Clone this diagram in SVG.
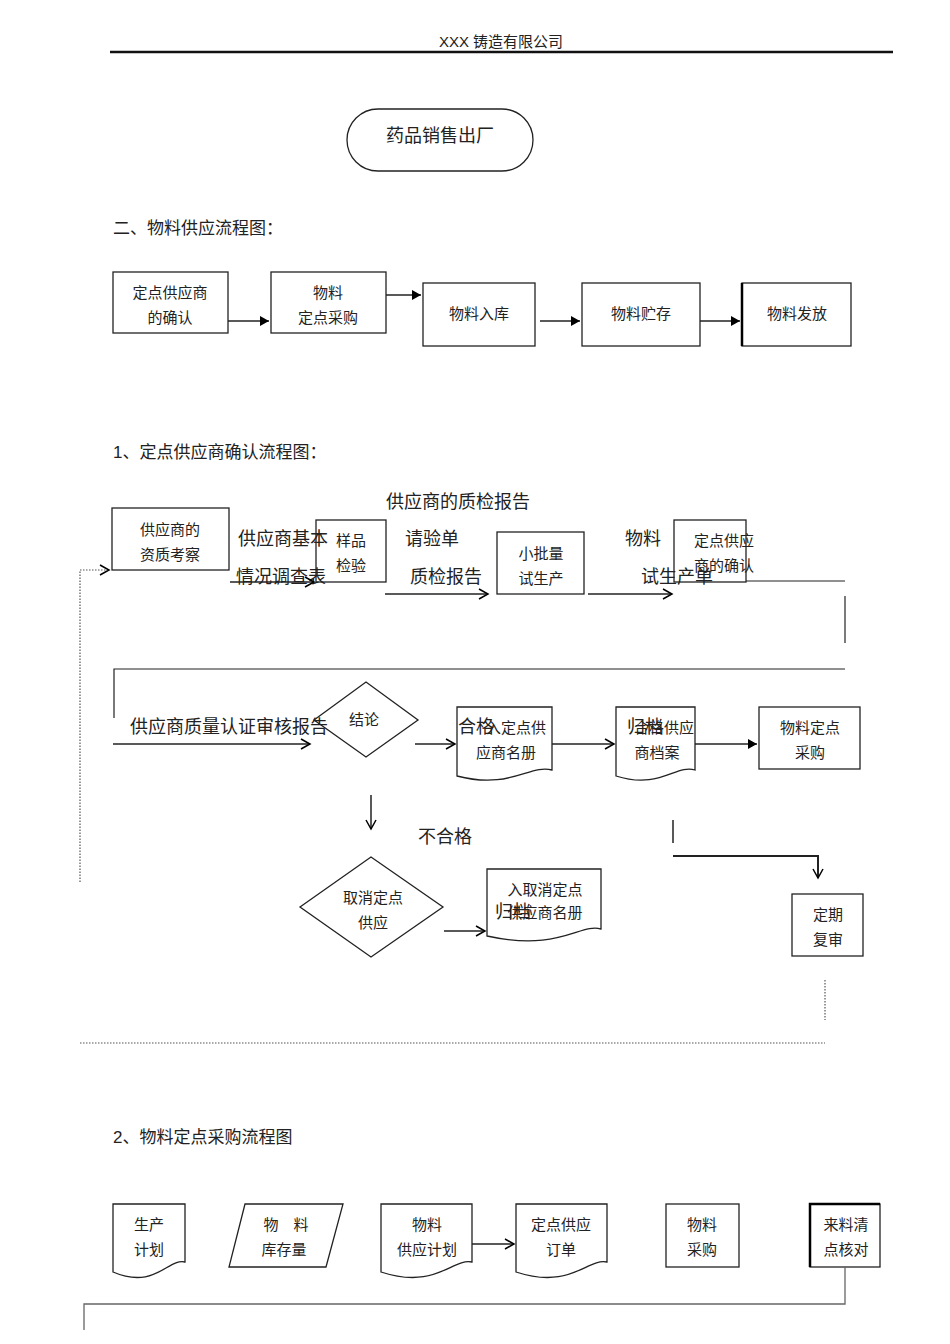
<svg xmlns="http://www.w3.org/2000/svg" width="950" height="1344" viewBox="0 0 950 1344">
<defs>
<marker id="ah" markerWidth="12" markerHeight="12" refX="10" refY="6" orient="auto" markerUnits="userSpaceOnUse"><path d="M1,1 L10,6 L1,11" fill="none" stroke="#000" stroke-width="1.5"/></marker>
<marker id="af" markerWidth="12" markerHeight="12" refX="10" refY="6" orient="auto" markerUnits="userSpaceOnUse"><path d="M1,1 L10,6 L1,11 Z" fill="#000"/></marker>
</defs>
<style>
text{font-family:"Liberation Sans","Noto Sans CJK SC",sans-serif;fill:#222}
.n{font-size:15px;text-anchor:middle}
.l{font-size:18px}
.s{fill:#fff;stroke:#222;stroke-width:1.3}
.c{fill:none;stroke:#222;stroke-width:1.5}
.d{fill:none;stroke:#555;stroke-width:1.2;stroke-dasharray:1.5,1.5}
</style>
<rect width="950" height="1344" fill="#fff"/>
<text x="501" y="47" class="n">XXX 铸造有限公司</text>
<line x1="110" y1="52" x2="893" y2="52" stroke="#111" stroke-width="2.5"/>
<g id="start"><rect class="s" x="347" y="109" width="186" height="62" rx="31"/><text x="440" y="142" class="n" style="font-size:18px">药品销售出厂</text></g>
<text x="113" y="234" class="l" style="font-size:17px">二、物料供应流程图：</text>
<g id="a1"><rect class="s" x="113" y="272" width="115" height="61"/><text class="n" x="170" y="298">定点供应商</text><text class="n" x="170" y="323">的确认</text></g>
<g id="a2"><rect class="s" x="271" y="272" width="115" height="61"/><text class="n" x="328" y="298">物料</text><text class="n" x="328" y="323">定点采购</text></g>
<g id="a3"><rect class="s" x="423" y="283" width="112" height="63"/><text class="n" x="479" y="319">物料入库</text></g>
<g id="a4"><rect class="s" x="582" y="283" width="118" height="63"/><text class="n" x="641" y="319">物料贮存</text></g>
<g id="a5"><rect class="s" x="742" y="283" width="109" height="63"/><line x1="742" y1="283" x2="742" y2="346" stroke="#000" stroke-width="2.5"/><text class="n" x="797" y="319">物料发放</text></g>
<text x="113" y="458" class="l" style="font-size:17px">1、定点供应商确认流程图：</text>
<text x="458" y="508" class="l" text-anchor="middle">供应商的质检报告</text>
<g id="b1"><rect class="s" x="112" y="508" width="117" height="62"/><text class="n" x="170" y="535">供应商的</text><text class="n" x="170" y="560">资质考察</text></g>
<g id="b2"><rect class="s" x="316" y="520" width="70" height="62"/><text class="n" x="351" y="546">样品</text><text class="n" x="351" y="571">检验</text></g>
<g id="b3"><rect class="s" x="497" y="532" width="87" height="62"/><text class="n" x="541" y="559">小批量</text><text class="n" x="541" y="584">试生产</text></g>
<g id="b4"><rect class="s" x="674" y="520" width="72" height="62"/><text class="n" x="724" y="546">定点供应</text><text class="n" x="724" y="571">商的确认</text></g>
<g id="b5"><path class="s" d="M314,720 L366,682 L418,720 L366,757 Z"/><text class="n" x="364" y="725">结论</text></g>
<g id="b6"><path class="s" d="M457,707 H552 V770 C530,764 510,790 457,776 Z"/><text class="n" x="516" y="733">入定点供</text><text class="n" x="506" y="758">应商名册</text></g>
<g id="b7"><path class="s" d="M616,707 H695 V770 C676,764 660,790 616,776 Z"/><text class="n" x="664" y="733">合格供应</text><text class="n" x="657" y="758">商档案</text></g>
<g id="b8"><rect class="s" x="759" y="707" width="101" height="62"/><text class="n" x="810" y="733">物料定点</text><text class="n" x="810" y="758">采购</text></g>
<g id="b9"><path class="s" d="M300,907 L371,857 L443,907 L371,957 Z"/><text class="n" x="373" y="903">取消定点</text><text class="n" x="373" y="928">供应</text></g>
<g id="b10"><path class="s" d="M487,869 H601 V929 C580,923 560,952 487,936 Z"/><text class="n" x="545" y="895">入取消定点</text><text class="n" x="545" y="918">供应商名册</text></g>
<g id="b11"><rect class="s" x="792" y="894" width="71" height="62"/><text class="n" x="828" y="920">定期</text><text class="n" x="828" y="945">复审</text></g>
<g id="lbl1" class="l">
<text x="238" y="545" class="l">供应商基本</text><text x="236" y="583" class="l">情况调查表</text>
<text x="405" y="545" class="l">请验单</text><text x="410" y="583" class="l">质检报告</text>
<text x="625" y="545" class="l">物料</text><text x="641" y="583" class="l">试生产单</text>
<text x="130" y="733" class="l">供应商质量认证审核报告</text>
<text x="458" y="733" class="l">合格</text><text x="627" y="733" class="l">归档</text>
<text x="418" y="843" class="l">不合格</text><text x="495" y="918" class="l">归档</text>
</g>
<text x="113" y="1143" class="l" style="font-size:17px">2、物料定点采购流程图</text>
<g id="c1"><path class="s" d="M113,1204 H185 V1262 C168,1258 155,1290 113,1272 Z"/><text class="n" x="149" y="1230">生产</text><text class="n" x="149" y="1255">计划</text></g>
<g id="c2"><path class="s" d="M245,1204 H343 L326,1267 H229 Z"/><text class="n" x="286" y="1230">物　料</text><text class="n" x="284" y="1255">库存量</text></g>
<g id="c3"><path class="s" d="M381,1204 H472 V1262 C452,1258 436,1290 381,1272 Z"/><text class="n" x="427" y="1230">物料</text><text class="n" x="427" y="1255">供应计划</text></g>
<g id="c4"><path class="s" d="M516,1204 H607 V1262 C587,1258 571,1290 516,1272 Z"/><text class="n" x="561" y="1230">定点供应</text><text class="n" x="561" y="1255">订单</text></g>
<g id="c5"><rect class="s" x="666" y="1204" width="73" height="63"/><text class="n" x="702" y="1230">物料</text><text class="n" x="702" y="1255">采购</text></g>
<g id="c6"><rect class="s" x="810" y="1204" width="70" height="63"/><path d="M810,1267 V1204 H880" fill="none" stroke="#000" stroke-width="2.5"/><text class="n" x="846" y="1230">来料清</text><text class="n" x="846" y="1255">点核对</text></g>
<g id="connectors">
<line class="c" x1="228" y1="321" x2="269" y2="321" marker-end="url(#af)"/>
<line class="c" x1="386" y1="295" x2="421" y2="295" marker-end="url(#af)"/>
<line class="c" x1="540" y1="321" x2="580" y2="321" marker-end="url(#af)"/>
<line class="c" x1="700" y1="321" x2="740" y2="321" marker-end="url(#af)"/>
<line class="c" x1="230" y1="582" x2="314" y2="582" marker-end="url(#ah)"/>
<line class="c" x1="385" y1="594" x2="488" y2="594" marker-end="url(#ah)"/>
<line class="c" x1="588" y1="594" x2="672" y2="594" marker-end="url(#ah)"/>
<path class="c" style="stroke-width:1.2" d="M746,581 H845"/>
<path class="c" style="stroke-width:1.2" d="M845,596 V643"/>
<path class="c" style="stroke-width:1.2" d="M845,669 H114 V718"/>
<line class="c" x1="113" y1="744" x2="310" y2="744" marker-end="url(#ah)"/>
<line class="c" x1="415" y1="744" x2="455" y2="744" marker-end="url(#ah)"/>
<line class="c" x1="552" y1="744" x2="614" y2="744" marker-end="url(#ah)"/>
<line class="c" x1="695" y1="744" x2="757" y2="744" marker-end="url(#af)"/>
<line class="c" x1="371" y1="795" x2="371" y2="829" marker-end="url(#ah)"/>
<line class="c" x1="444" y1="931" x2="485" y2="931" marker-end="url(#ah)"/>
<path class="c" d="M673,820 V843"/>
<path class="c" style="stroke-width:2" d="M673,856 H818 V878" marker-end="url(#ah)"/>
<path class="d" d="M825,980 V1020"/>
<path class="d" d="M80,1043 H825"/>
<path class="d" d="M80,882 V570 H109" marker-end="url(#ah)"/>
<line class="c" x1="472" y1="1244" x2="514" y2="1244" marker-end="url(#ah)"/>
<path class="c" style="stroke:#666;stroke-width:1.3" d="M845,1267 V1304 H84 V1330"/>
</g>
</svg>
